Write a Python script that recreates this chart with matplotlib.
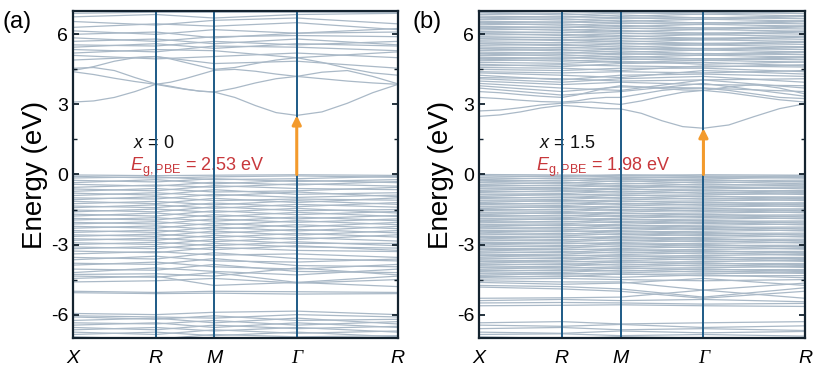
import numpy as np
import matplotlib.pyplot as plt

plt.rcParams['font.family'] = ['Liberation Sans', 'DejaVu Sans']
plt.rcParams['axes.unicode_minus'] = False
plt.rcParams['mathtext.fontset'] = 'custom'
plt.rcParams['mathtext.rm'] = 'Liberation Sans'
plt.rcParams['mathtext.it'] = 'Liberation Sans:italic'

# high-symmetry path X-R-M-G-R (simple cubic, units of 2pi/a)
k_labels = ['X', 'R', 'M', 'Γ', 'R']
k_hs = [0.000, 0.707, 1.207, 1.914, 2.780]
k_fine = [0.000, 0.177, 0.354, 0.530, 0.707, 0.832, 0.957, 1.082, 1.207,
          1.384, 1.561, 1.737, 1.914, 2.130, 2.347, 2.563, 2.780]

# ---------------- panel (a), x = 0 ----------------
x_a = '0'
gap_a = 2.53

# lowest conduction bands, read on the fine k grid
cb_a_fine = [
    [3.10, 3.15, 3.30, 3.55, 3.86, 3.75, 3.65, 3.57, 3.53, 3.30, 2.95, 2.65, 2.53, 2.68, 3.05, 3.50, 3.86],
    [4.40, 4.28, 4.12, 3.98, 3.86, 3.95, 4.10, 4.28, 4.46, 4.50, 4.42, 4.30, 4.20, 4.10, 4.00, 3.92, 3.86],
    [4.55, 4.58, 4.45, 4.15, 3.88, 3.78, 3.66, 3.57, 3.53, 3.70, 3.92, 4.10, 4.20, 4.38, 4.45, 4.20, 3.88],
    [4.45, 4.62, 4.85, 5.00, 5.05, 4.95, 4.80, 4.65, 4.50, 4.58, 4.75, 4.90, 5.00, 4.80, 4.55, 4.35, 4.25],
]
# upper conduction bands at X, R, M, G, R
cb_a = [
    [4.90, 5.05, 4.75, 4.85, 4.55],
    [5.10, 4.95, 5.05, 5.20, 5.00],
    [5.20, 5.35, 5.30, 5.00, 5.25],
    [5.35, 5.25, 5.50, 5.45, 5.30],
    [5.45, 5.60, 5.40, 5.60, 5.50],
    [5.55, 5.50, 5.70, 5.55, 5.70],
    [5.70, 5.80, 5.60, 5.80, 5.55],
    [5.85, 5.70, 5.90, 5.95, 5.90],
    [6.00, 6.10, 5.85, 6.05, 6.10],
    [6.15, 6.00, 6.20, 6.05, 6.25],
    [6.30, 6.45, 6.35, 6.50, 6.20],
    [6.55, 6.40, 6.60, 6.70, 6.45],
    [6.75, 6.85, 6.70, 6.85, 6.90],
    [6.90, 6.95, 6.95, 6.95, 6.95],
]
vb_a = [
    [-0.02, -0.05, -0.03, -0.01, -0.04],
    [-0.08, -0.15, -0.10, -0.06, -0.12],
    [-0.15, -0.10, -0.22, -0.18, -0.08],
    [-0.25, -0.32, -0.18, -0.30, -0.22],
    [-0.35, -0.22, -0.40, -0.25, -0.35],
    [-0.42, -0.50, -0.33, -0.45, -0.30],
    [-0.55, -0.45, -0.55, -0.40, -0.50],
    [-0.62, -0.70, -0.48, -0.60, -0.65],
    [-0.72, -0.60, -0.75, -0.70, -0.55],
    [-0.80, -0.88, -0.65, -0.85, -0.78],
    [-0.90, -0.78, -0.92, -0.75, -0.95],
    [-1.00, -1.05, -0.85, -0.98, -0.88],
    [-1.08, -0.95, -1.12, -1.05, -1.10],
    [-1.15, -1.25, -1.02, -1.20, -1.00],
    [-1.25, -1.15, -1.30, -1.12, -1.28],
    [-1.35, -1.42, -1.22, -1.38, -1.20],
    [-1.42, -1.30, -1.45, -1.28, -1.40],
    [-1.52, -1.60, -1.38, -1.55, -1.50],
    [-1.60, -1.48, -1.62, -1.45, -1.65],
    [-1.70, -1.78, -1.55, -1.72, -1.58],
    [-1.78, -1.65, -1.82, -1.62, -1.80],
    [-1.88, -1.95, -1.72, -1.90, -1.75],
    [-1.95, -1.85, -2.00, -1.82, -1.98],
    [-2.05, -2.12, -1.90, -2.05, -1.90],
    [-2.12, -2.02, -2.18, -1.98, -2.15],
    [-2.22, -2.30, -2.08, -2.25, -2.05],
    [-2.30, -2.20, -2.35, -2.15, -2.32],
    [-2.40, -2.48, -2.25, -2.42, -2.22],
    [-2.48, -2.38, -2.52, -2.35, -2.50],
    [-2.58, -2.65, -2.42, -2.60, -2.40],
    [-2.65, -2.55, -2.70, -2.52, -2.68],
    [-2.75, -2.82, -2.60, -2.78, -2.58],
    [-2.82, -2.72, -2.88, -2.70, -2.85],
    [-2.92, -3.00, -2.78, -2.95, -2.95],
    [-3.00, -2.90, -3.05, -2.88, -3.05],
    [-3.10, -3.18, -2.95, -3.10, -3.15],
    [-3.18, -3.08, -3.22, -3.05, -3.25],
    [-3.28, -3.35, -3.12, -3.25, -3.30],
    [-3.40, -3.30, -3.45, -3.40, -3.55],
    [-3.55, -3.62, -3.35, -3.60, -3.70],
    [-3.65, -3.50, -3.70, -3.75, -3.62],
    [-3.80, -3.85, -3.60, -3.90, -3.95],
    [-3.88, -3.75, -3.95, -4.05, -3.85],
    [-4.05, -4.10, -3.85, -4.15, -4.20],
    [-4.20, -4.00, -4.15, -4.30, -4.05],
    [-4.28, -4.25, -4.35, -4.00, -4.30],
    [-4.35, -4.40, -4.20, -4.62, -4.35],
    [-4.45, -4.35, -4.75, -4.62, -4.80],
    [-4.60, -4.55, -4.45, -4.65, -4.50],
    [-5.00, -5.05, -5.00, -5.02, -5.05],
    [-5.06, -5.10, -5.08, -5.12, -5.10],
    [-5.95, -6.00, -5.90, -5.85, -6.00],
    [-6.05, -6.10, -6.15, -6.00, -6.10],
    [-6.10, -6.20, -6.05, -6.25, -6.20],
    [-6.25, -6.15, -6.35, -6.15, -6.40],
    [-6.35, -6.40, -6.25, -6.45, -6.30],
    [-6.45, -6.35, -6.55, -6.35, -6.55],
    [-6.55, -6.65, -6.45, -6.60, -6.50],
    [-6.65, -6.55, -6.70, -6.55, -6.75],
    [-6.75, -6.85, -6.65, -6.80, -6.70],
    [-6.85, -6.75, -6.90, -6.75, -6.95],
    [-6.95, -7.05, -6.85, -6.95, -6.90],
]

# ---------------- panel (b), x = 1.5 ----------------
x_b = '1.5'
gap_b = 1.98

cb_b_fine = [
    [2.49, 2.55, 2.68, 2.85, 2.96, 2.92, 2.86, 2.82, 2.81, 2.62, 2.30, 2.05, 1.98, 2.12, 2.48, 2.82, 3.03],
    [2.72, 2.76, 2.86, 2.98, 3.05, 3.08, 3.10, 3.05, 3.00, 3.15, 3.35, 3.52, 3.60, 3.50, 3.35, 3.20, 3.10],
    [3.30, 3.25, 3.18, 3.12, 3.10, 3.15, 3.25, 3.30, 3.30, 3.45, 3.60, 3.68, 3.70, 3.60, 3.45, 3.30, 3.25],
    [3.55, 3.50, 3.42, 3.35, 3.30, 3.40, 3.55, 3.70, 3.80, 3.75, 3.68, 3.62, 3.60, 3.75, 3.85, 3.70, 3.45],
]
cb_b = [
    [3.70, 3.40, 3.55, 3.90, 3.35],
    [3.80, 3.55, 3.75, 3.70, 3.55],
    [3.90, 3.70, 3.60, 4.05, 3.70],
    [4.00, 3.85, 3.95, 3.85, 3.80],
    [4.10, 3.95, 4.10, 4.20, 3.95],
    [4.15, 4.10, 4.00, 4.05, 4.10],
    [4.25, 4.05, 4.25, 4.30, 4.20],
    [4.35, 4.25, 4.15, 4.45, 4.30],
    [4.40, 4.35, 4.40, 4.35, 4.45],
    [4.50, 4.45, 4.55, 4.55, 4.40],
    [4.58, 4.55, 4.45, 4.65, 4.60],
    [4.65, 4.70, 4.65, 4.60, 4.70],
    [4.72, 4.62, 4.75, 4.80, 4.65],
    [4.80, 4.76, 4.85, 4.72, 4.82],
    [4.87, 4.91, 4.79, 4.89, 4.81],
    [4.94, 4.85, 4.93, 4.96, 4.91],
    [4.96, 4.99, 4.95, 4.88, 5.00],
    [5.02, 4.98, 5.07, 4.94, 5.04],
    [5.09, 5.13, 5.01, 5.11, 5.03],
    [5.16, 5.07, 5.15, 5.18, 5.13],
    [5.18, 5.21, 5.17, 5.10, 5.22],
    [5.24, 5.20, 5.29, 5.16, 5.26],
    [5.31, 5.35, 5.23, 5.33, 5.25],
    [5.38, 5.29, 5.37, 5.40, 5.35],
    [5.40, 5.43, 5.39, 5.32, 5.44],
    [5.46, 5.42, 5.51, 5.38, 5.48],
    [5.53, 5.57, 5.45, 5.55, 5.47],
    [5.60, 5.51, 5.59, 5.62, 5.57],
    [5.62, 5.65, 5.61, 5.54, 5.66],
    [5.68, 5.64, 5.73, 5.60, 5.70],
    [5.75, 5.79, 5.67, 5.77, 5.69],
    [5.82, 5.73, 5.81, 5.84, 5.79],
    [5.84, 5.87, 5.83, 5.76, 5.88],
    [5.90, 5.86, 5.95, 5.82, 5.92],
    [5.97, 6.01, 5.89, 5.99, 5.91],
    [6.04, 5.95, 6.03, 6.06, 6.01],
    [6.06, 6.09, 6.05, 5.98, 6.10],
    [6.12, 6.08, 6.17, 6.04, 6.14],
    [6.19, 6.23, 6.11, 6.21, 6.13],
    [6.26, 6.17, 6.25, 6.28, 6.23],
    [6.28, 6.31, 6.27, 6.20, 6.32],
    [6.34, 6.30, 6.39, 6.26, 6.36],
    [6.41, 6.45, 6.33, 6.43, 6.35],
    [6.48, 6.39, 6.47, 6.50, 6.45],
    [6.50, 6.53, 6.49, 6.42, 6.54],
    [6.56, 6.52, 6.61, 6.48, 6.58],
    [6.63, 6.67, 6.55, 6.65, 6.57],
    [6.70, 6.61, 6.69, 6.72, 6.67],
    [6.72, 6.75, 6.71, 6.64, 6.76],
    [6.78, 6.74, 6.83, 6.70, 6.80],
    [6.85, 6.89, 6.77, 6.87, 6.79],
    [6.92, 6.83, 6.91, 6.94, 6.89],
    [6.94, 6.97, 6.93, 6.86, 6.98],
]
vb_b = [
    [0.00, -0.02, -0.04, -0.01, -0.03],
    [-0.05, -0.09, -0.01, -0.06, -0.08],
    [-0.12, -0.05, -0.10, -0.14, -0.04],
    [-0.15, -0.18, -0.13, -0.09, -0.16],
    [-0.22, -0.14, -0.21, -0.19, -0.12],
    [-0.25, -0.28, -0.17, -0.27, -0.24],
    [-0.32, -0.24, -0.30, -0.22, -0.33],
    [-0.35, -0.38, -0.27, -0.36, -0.29],
    [-0.43, -0.34, -0.41, -0.31, -0.40],
    [-0.46, -0.48, -0.37, -0.45, -0.44],
    [-0.51, -0.45, -0.52, -0.41, -0.49],
    [-0.58, -0.55, -0.47, -0.56, -0.53],
    [-0.61, -0.63, -0.58, -0.50, -0.62],
    [-0.68, -0.60, -0.65, -0.62, -0.57],
    [-0.72, -0.74, -0.62, -0.70, -0.69],
    [-0.77, -0.69, -0.76, -0.66, -0.78],
    [-0.84, -0.82, -0.71, -0.81, -0.73],
    [-0.87, -0.88, -0.83, -0.75, -0.86],
    [-0.94, -0.85, -0.90, -0.87, -0.82],
    [-0.98, -1.00, -0.88, -0.95, -0.96],
    [-1.03, -0.96, -1.02, -0.92, -1.04],
    [-1.10, -1.07, -0.97, -1.06, -0.99],
    [-1.13, -1.15, -1.09, -1.01, -1.12],
    [-1.20, -1.11, -1.16, -1.13, -1.08],
    [-1.24, -1.26, -1.14, -1.22, -1.21],
    [-1.29, -1.22, -1.28, -1.18, -1.30],
    [-1.36, -1.33, -1.23, -1.32, -1.25],
    [-1.39, -1.41, -1.35, -1.27, -1.38],
    [-1.46, -1.37, -1.42, -1.39, -1.34],
    [-1.50, -1.52, -1.40, -1.48, -1.47],
    [-1.55, -1.48, -1.54, -1.44, -1.56],
    [-1.62, -1.59, -1.49, -1.58, -1.51],
    [-1.65, -1.67, -1.61, -1.53, -1.64],
    [-1.72, -1.63, -1.68, -1.65, -1.60],
    [-1.76, -1.78, -1.66, -1.74, -1.73],
    [-1.81, -1.74, -1.80, -1.70, -1.82],
    [-1.88, -1.85, -1.75, -1.84, -1.77],
    [-1.91, -1.93, -1.87, -1.79, -1.90],
    [-1.98, -1.89, -1.94, -1.91, -1.86],
    [-2.02, -2.04, -1.92, -2.00, -1.99],
    [-2.07, -2.00, -2.06, -1.96, -2.08],
    [-2.14, -2.11, -2.01, -2.10, -2.03],
    [-2.17, -2.19, -2.13, -2.05, -2.16],
    [-2.24, -2.15, -2.20, -2.17, -2.12],
    [-2.28, -2.30, -2.18, -2.26, -2.25],
    [-2.33, -2.26, -2.32, -2.22, -2.34],
    [-2.40, -2.37, -2.27, -2.36, -2.29],
    [-2.43, -2.45, -2.39, -2.31, -2.42],
    [-2.50, -2.41, -2.46, -2.43, -2.38],
    [-2.54, -2.56, -2.44, -2.52, -2.51],
    [-2.59, -2.52, -2.58, -2.48, -2.60],
    [-2.66, -2.63, -2.53, -2.62, -2.55],
    [-2.69, -2.71, -2.65, -2.57, -2.68],
    [-2.76, -2.67, -2.72, -2.69, -2.64],
    [-2.80, -2.82, -2.70, -2.78, -2.77],
    [-2.85, -2.78, -2.84, -2.74, -2.86],
    [-2.92, -2.89, -2.79, -2.88, -2.81],
    [-2.95, -2.97, -2.91, -2.83, -2.94],
    [-3.02, -2.93, -2.98, -2.95, -2.90],
    [-3.06, -3.08, -2.96, -3.04, -3.03],
    [-3.11, -3.04, -3.10, -3.00, -3.12],
    [-3.18, -3.15, -3.05, -3.14, -3.07],
    [-3.21, -3.23, -3.17, -3.09, -3.20],
    [-3.28, -3.19, -3.24, -3.21, -3.16],
    [-3.32, -3.34, -3.22, -3.30, -3.29],
    [-3.37, -3.30, -3.36, -3.26, -3.38],
    [-3.44, -3.41, -3.31, -3.40, -3.33],
    [-3.47, -3.49, -3.43, -3.35, -3.46],
    [-3.54, -3.45, -3.50, -3.47, -3.42],
    [-3.58, -3.60, -3.48, -3.56, -3.55],
    [-3.63, -3.56, -3.62, -3.52, -3.64],
    [-3.70, -3.67, -3.57, -3.66, -3.59],
    [-3.73, -3.75, -3.69, -3.61, -3.72],
    [-3.80, -3.71, -3.76, -3.73, -3.68],
    [-3.84, -3.86, -3.74, -3.82, -3.81],
    [-3.89, -3.82, -3.88, -3.78, -3.90],
    [-3.96, -3.93, -3.83, -3.92, -3.85],
    [-3.99, -4.01, -3.95, -3.87, -3.98],
    [-4.06, -3.97, -4.02, -3.99, -3.94],
    [-4.10, -4.12, -4.00, -4.08, -4.07],
    [-4.15, -4.08, -4.14, -4.04, -4.16],
    [-4.22, -4.19, -4.09, -4.18, -4.11],
    [-4.25, -4.27, -4.21, -4.13, -4.24],
    [-4.32, -4.23, -4.28, -4.25, -4.20],
    [-4.36, -4.38, -4.26, -4.34, -4.33],
    [-4.41, -4.34, -4.40, -4.30, -4.42],
    [-4.48, -4.45, -4.50, -4.55, -4.50],
    [-4.55, -4.60, -4.60, -4.95, -4.65],
    [-4.62, -4.70, -4.65, -4.45, -4.75],
    [-4.75, -4.80, -4.90, -5.25, -4.85],
    [-4.82, -4.90, -5.00, -5.30, -5.00],
    [-5.30, -5.28, -5.25, -4.95, -5.30],
    [-5.40, -5.35, -5.40, -5.35, -5.45],
    [-5.50, -5.48, -5.50, -5.55, -5.52],
    [-5.62, -5.60, -5.58, -5.62, -5.65],
    [-6.35, -6.30, -6.40, -6.35, -6.30],
    [-6.45, -6.50, -6.42, -6.55, -6.48],
    [-6.60, -6.55, -6.65, -6.60, -6.68],
    [-6.75, -6.80, -6.70, -6.78, -6.72],
    [-6.85, -6.82, -6.90, -6.85, -6.92],
    [-6.95, -7.02, -6.95, -7.00, -6.98],
]

band_color = '#aab9c7'
vline_color = '#1d5a86'
arrow_color = '#f39a2c'
text_red = '#c8383c'
spine_color = '#14232f'

fig = plt.figure(figsize=(8.16, 3.74), dpi=100)
ax_a = fig.add_axes([0.0895, 0.0963, 0.3982, 0.8743])
ax_b = fig.add_axes([0.587, 0.0963, 0.3995, 0.8743])


def draw_panel(ax, fine, bands, gap, xval):
    for e in bands:
        ax.plot(k_hs, e, color=band_color, lw=0.9, zorder=1)
    for e in fine:
        ax.plot(k_fine, e, color=band_color, lw=0.9, zorder=1)
    for k in k_hs[1:4]:
        ax.axvline(k, color=vline_color, lw=1.4, zorder=4)

    # band gap arrow at Gamma
    ax.annotate('', xy=(k_hs[3], gap), xytext=(k_hs[3], 0),
                arrowprops=dict(arrowstyle='-|>', color=arrow_color, lw=2.2,
                                mutation_scale=13, shrinkA=0, shrinkB=0),
                zorder=5)

    ax.text(0.51, 1.34, '$x$ = ' + xval, fontsize=13, color='#111111',
            va='center', zorder=3)
    ax.text(0.49, 0.32, r'$E_{\mathrm{g,PBE}}$ = %.2f eV' % gap, fontsize=13,
            color=text_red, va='center', zorder=3)

    ax.set_xlim(k_hs[0], k_hs[-1])
    ax.set_ylim(-7, 7)
    ax.set_xticks(k_hs)
    ax.set_xticklabels(k_labels, fontsize=14, style='italic')
    ax.get_xticklabels()[3].set_fontfamily('Liberation Serif')
    ax.tick_params(axis='x', length=0, pad=9)
    ax.set_yticks([-6, -3, 0, 3, 6])
    ax.set_yticks([-4.5, -1.5, 1.5, 4.5], minor=True)
    ax.tick_params(axis='y', which='both', direction='in', left=True, right=True,
                   labelsize=14, color=spine_color)
    ax.tick_params(axis='y', which='major', length=4.5, width=1.3)
    ax.tick_params(axis='y', which='minor', length=3, width=1.0)
    ax.set_ylabel('Energy (eV)', fontsize=20, labelpad=2)
    for s in ax.spines.values():
        s.set_linewidth(1.6)
        s.set_color(spine_color)
        s.set_zorder(6)


draw_panel(ax_a, cb_a_fine, vb_a + cb_a, gap_a, x_a)
draw_panel(ax_b, cb_b_fine, vb_b + cb_b, gap_b, x_b)

fig.text(0.003, 0.94, '(a)', fontsize=17, va='center')
fig.text(0.505, 0.94, '(b)', fontsize=17, va='center')

plt.savefig('out.png', dpi=100)
